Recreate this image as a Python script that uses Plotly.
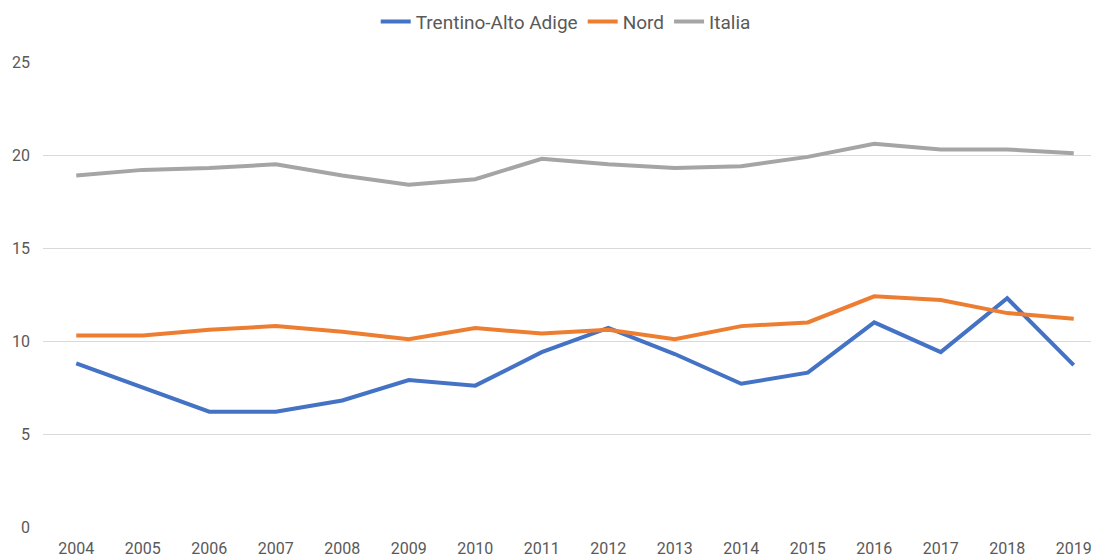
import plotly.graph_objects as go

years = ["2004", "2005", "2006", "2007", "2008", "2009", "2010", "2011",
         "2012", "2013", "2014", "2015", "2016", "2017", "2018", "2019"]
trentino = [8.8, 7.5, 6.2, 6.2, 6.8, 7.9, 7.6, 9.4, 10.7, 9.3, 7.7, 8.3, 11.0, 9.4, 12.3, 8.7]
nord = [10.3, 10.3, 10.6, 10.8, 10.5, 10.1, 10.7, 10.4, 10.6, 10.1, 10.8, 11.0, 12.4, 12.2, 11.5, 11.2]
italia = [18.9, 19.2, 19.3, 19.5, 18.9, 18.4, 18.7, 19.8, 19.5, 19.3, 19.4, 19.9, 20.6, 20.3, 20.3, 20.1]

series = [("Trentino-Alto Adige", trentino, "#4472C4"),
          ("Nord", nord, "#ED7D31"),
          ("Italia", italia, "#A5A5A5")]

FONT = "Roboto, Open Sans, sans-serif"
fig = go.Figure()
for name, vals, col in series:
    fig.add_trace(go.Scatter(x=years, y=vals, name=name, mode="lines",
                             line=dict(color=col, width=4)))

# page has an 8px body margin; figure sized to fit the 1099x558 window
fig.update_layout(
    width=1091, height=550,
    margin=dict(l=35, r=0, t=54, b=31, autoexpand=False),
    paper_bgcolor="white", plot_bgcolor="white",
    font=dict(family=FONT, size=16, color="#595959"),
    legend=dict(orientation="h", x=0.495, xanchor="center", y=1.087, yanchor="middle",
                font=dict(size=19, color="#595959"), tracegroupgap=0),
    xaxis=dict(type="category", range=[-0.5, 15.38], showgrid=False, zeroline=False,
               showline=False, ticks="", tickfont=dict(size=16), automargin=False,
               ticklabelstandoff=10),
    yaxis=dict(range=[0, 25], dtick=5, showgrid=True, gridcolor="#D9D9D9", gridwidth=1,
               zeroline=False, showline=False, ticks="", tickfont=dict(size=16),
               automargin=False, ticklabelstandoff=12),
)
fig.write_html("out.html")
